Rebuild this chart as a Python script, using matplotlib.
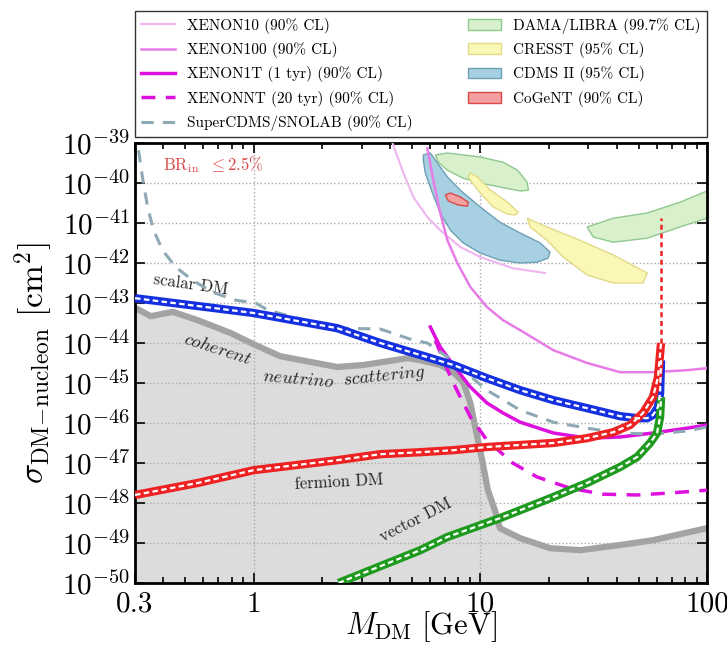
import numpy as np
import matplotlib
matplotlib.use("Agg")
import matplotlib.pyplot as plt

plt.rcParams['font.family'] = ['cmr10', 'DejaVu Serif']
plt.rcParams['mathtext.fontset'] = 'cm'
plt.rcParams['axes.formatter.use_mathtext'] = True

# --- data (GeV, log10 of cm^2) ---
nu_m = [0.3, 0.352, 0.44, 0.567, 0.792, 1.0, 1.31, 2.34, 3.05, 4.77, 5.44, 6.66, 7.6, 8.41, 9.04, 9.5, 10.2, 10.8,
        11.6, 12.2, 15.0, 20.3, 27.6, 41.4, 57.8, 100]
nu_s = [-43.12, -43.33, -43.22, -43.43, -43.75, -44.03, -44.33, -44.6, -44.55, -44.38, -44.43, -44.55, -44.73,
        -44.98, -45.5, -46.1, -46.93, -47.68, -48.18, -48.63, -48.88, -49.13, -49.18, -49.05, -48.93, -48.63]

scalar_m = [0.3, 1.0, 2.34, 3.62, 5.44, 7.6, 10.7, 15.0, 21.0, 29.6, 41.4, 49.2, 54.5, 57.8, 60.8, 62.1, 62.7]
scalar_s = [-42.88, -43.25, -43.63, -44.0, -44.3, -44.55, -44.88, -45.18, -45.43, -45.63, -45.83, -45.88, -45.88,
            -45.8, -45.6, -45.25, -44.43]

fermion_m = [0.3, 0.567, 1.0, 2.34, 3.62, 5.44, 7.6, 10.7, 15.0, 21.0, 29.6, 38.6, 45.8, 52.2, 57.8, 60.8, 62.7]
fermion_s = [-47.8, -47.5, -47.18, -46.93, -46.78, -46.73, -46.68, -46.6, -46.55, -46.5, -46.38, -46.23, -46.05,
             -45.75, -45.35, -44.85, -44.0]
fermion_top = [-44.0, -40.88]

vector_m = [2.37, 5.44, 7.16, 12.2, 15.0, 21.0, 29.6, 41.4, 49.2, 56.1, 60.2, 62.1, 62.7]
vector_s = [-50.0, -49.18, -48.85, -48.38, -48.18, -47.85, -47.5, -47.1, -46.85, -46.5, -46.25, -45.85, -45.35]

x10_m = [4.1, 4.58, 5.07, 5.84, 6.66, 8.16, 10.0, 13.9, 19.3]
x10_s = [-39.0, -39.75, -40.35, -40.85, -41.18, -41.6, -41.85, -42.13, -42.25]

x100_m = [5.84, 6.21, 6.66, 7.16, 7.92, 9.04, 10.7, 12.6, 15.0, 21.0, 29.6, 41.4, 57.8, 81.6, 100]
x100_s = [-39.13, -39.93, -40.75, -41.43, -42.0, -42.6, -43.1, -43.43, -43.68, -44.18, -44.5, -44.73, -44.73,
          -44.68, -44.63]

x1t_m = [6.02, 6.66, 7.6, 9.04, 10.7, 12.6, 15.0, 21.0, 29.6, 41.4, 57.8, 81.6, 100]
x1t_s = [-43.6, -44.1, -44.55, -45.1, -45.5, -45.75, -45.98, -46.25, -46.38, -46.35, -46.25, -46.13, -46.05]

xnt_m = [6.34, 6.87, 7.6, 9.04, 10.7, 13.9, 17.8, 24.9, 34.8, 49.2, 68.7, 100]
xnt_s = [-43.93, -44.43, -45.0, -45.85, -46.43, -47.0, -47.35, -47.63, -47.78, -47.8, -47.75, -47.68]

scdms_m = [0.311, 0.325, 0.341, 0.362, 0.397, 0.453, 0.538, 0.659, 0.833, 1.02, 1.16, 1.56, 2.34, 3.62, 5.07,
           5.84, 7.16, 8.41, 10.7, 15.0, 21.0, 29.6, 41.4, 57.8, 81.6, 100]
scdms_s = [-39.18, -39.93, -40.6, -41.18, -41.68, -42.1, -42.43, -42.73, -42.93, -43.0, -43.18, -43.38, -43.63,
           -43.65, -43.93, -44.0, -44.35, -44.68, -45.18, -45.68, -45.98, -46.13, -46.25, -46.28, -46.2, -46.1]

dama1_m = [6.34, 7.16, 10.0, 12.6, 14.6, 16.1, 16.3, 15.0, 12.2, 10.0, 8.41, 7.16, 6.53]
dama1_s = [-39.3, -39.25, -39.35, -39.48, -39.68, -39.98, -40.18, -40.2, -40.1, -40.0, -39.88, -39.68, -39.48]
dama2_m = [29.6, 38.6, 54.5, 76.0, 110, 110, 76.0, 54.5, 38.6, 31.5]
dama2_s = [-41.1, -40.88, -40.75, -40.48, -40.1, -40.8, -41.1, -41.38, -41.48, -41.35]

cresst1_m = [9.04, 9.7, 11.1, 13.2, 14.7, 14.3, 13.2, 11.4, 10.0, 9.22, 8.85]
cresst1_s = [-39.75, -39.85, -40.18, -40.48, -40.73, -40.8, -40.78, -40.6, -40.25, -40.0, -39.85]
cresst2_m = [16.1, 19.7, 27.5, 38.6, 54.5, 52.2, 38.6, 29.6, 23.2, 19.7, 16.6]
cresst2_s = [-40.88, -41.1, -41.43, -41.8, -42.25, -42.5, -42.5, -42.3, -41.85, -41.43, -41.1]

cdms_m = [5.61, 6.02, 6.47, 7.16, 8.16, 10.0, 12.2, 15.0, 18.4, 20.3, 19.9, 17.8, 15.0, 12.2, 10.0, 8.41, 7.38,
          6.66, 6.15, 5.72, 5.61]
cdms_s = [-39.3, -39.25, -39.5, -39.85, -40.18, -40.6, -40.98, -41.25, -41.5, -41.73, -41.88, -41.98, -42.0,
          -41.93, -41.75, -41.5, -41.18, -40.75, -40.25, -39.75, -39.43]

cogent_m = [7.01, 7.38, 8.16, 8.85, 8.76, 8.0, 7.23]
cogent_s = [-40.3, -40.25, -40.35, -40.48, -40.58, -40.55, -40.45]

xticks = [0.3, 1, 10, 100]
xticklabels = ['0.3', '1', '10', '100']
yexp = list(range(-50, -38))


def p(s):
    return [10.0 ** v for v in s]


fig = plt.figure(figsize=(7.27, 6.5), dpi=100)
ax = fig.add_axes([0.1857, 0.1031, 0.7868, 0.6769])
ax.set_xscale('log')
ax.set_yscale('log')
ax.set_xlim(0.3, 100)
ax.set_ylim(1e-50, 1e-39)

# neutrino floor
ax.fill_between(nu_m, p(nu_s), 1e-55, color='#dcdcdc', zorder=0, lw=0)
ax.plot(nu_m, p(nu_s), color='#a3a3a3', lw=4.5, zorder=1, solid_joinstyle='round')

# signal regions
for m, s in [(dama1_m, dama1_s), (dama2_m, dama2_s)]:
    h_dama = ax.fill(m, p(s), facecolor='#d8f0cc', edgecolor='#90c890', lw=1, zorder=2)[0]
for m, s in [(cresst1_m, cresst1_s), (cresst2_m, cresst2_s)]:
    h_cresst = ax.fill(m, p(s), facecolor='#fbf7b4', edgecolor='#e2d98a', lw=1, zorder=2)[0]
h_cdms = ax.fill(cdms_m, p(cdms_s), facecolor='#a7d1e2', edgecolor='#6e9fb5', lw=1, zorder=2)[0]
h_cogent = ax.fill(cogent_m, p(cogent_s), facecolor='#f4a0a0', edgecolor='#d84a4a', lw=1, zorder=3)[0]

# experimental limits
l1, = ax.plot(x10_m, p(x10_s), color='#f0b4f0', lw=1.5, zorder=4)
l2, = ax.plot(x100_m, p(x100_s), color='#e67ce6', lw=1.8, zorder=4)
l3, = ax.plot(x1t_m, p(x1t_s), color='#dd10dd', lw=2.5, zorder=4)
l4, = ax.plot(xnt_m, p(xnt_s), color='#dd10dd', lw=2.5, ls=(0, (4, 3)), zorder=4)
l5, = ax.plot(scdms_m, p(scdms_s), color='#8fa9b4', lw=2.2, ls=(0, (4, 3)), zorder=4)


def band(m, s, c):
    ax.plot(m, p(s), color=c, lw=6, zorder=6, solid_capstyle='butt', solid_joinstyle='round')
    ax.plot(m, p(s), color='white', lw=1.6, ls=(0, (2.5, 1.5)), zorder=7)


band(scalar_m, scalar_s, '#1530e0')
band(vector_m, vector_s, '#1e9a1e')
band(fermion_m, fermion_s, '#ee2222')
ax.plot([fermion_m[-1], fermion_m[-1]], p(fermion_top), color='#ee2222', lw=1.8, ls=(0, (2, 1.5)), zorder=6)

# text
ax.text(0.40, 10 ** -39.55, r'$\mathrm{BR}_{\mathrm{in}}\ \ \leq 2.5\%$', color='#d84848', fontsize=12, va='center')
ax.text(0.528, 10 ** -42.55, 'scalar DM', fontsize=12, rotation=-8, ha='center', va='center', color='#222222')
ax.text(0.70, 10 ** -44.15, r'$\mathit{coherent}$', fontsize=13, rotation=-18, ha='center', va='center', color='#222222')
ax.text(1.58, 10 ** -44.9, r'$\mathit{neutrino}$', fontsize=13, rotation=-5, ha='center', va='center', color='#222222')
ax.text(3.78, 10 ** -44.85, r'$\mathit{scattering}$', fontsize=13, rotation=6, ha='center', va='center', color='#222222')
ax.text(2.39, 10 ** -47.48, 'fermion DM', fontsize=12, rotation=3, ha='center', va='center', color='#222222')
ax.text(5.17, 10 ** -48.43, 'vector DM', fontsize=12, rotation=27, ha='center', va='center', color='#222222')

# axes cosmetics
ax.set_xticks(xticks)
ax.set_xticklabels(xticklabels)
ax.set_yticks([10.0 ** e for e in yexp])
ax.set_yticklabels([r'$10^{%d}$' % e for e in yexp])
ax.yaxis.set_minor_locator(matplotlib.ticker.NullLocator())
ax.tick_params(which='both', direction='in', top=True, right=True, labelsize=21, width=1.2)
ax.tick_params(which='major', length=7)
ax.tick_params(which='minor', length=4)
ax.tick_params(axis='x', pad=6)
ax.grid(True, which='major', ls=':', color='#aaaaaa', lw=1)
for sp in ax.spines.values():
    sp.set_linewidth(2)

ax.set_xlabel(r'$M_{\rm DM}\ [{\rm GeV}]$', fontsize=22, labelpad=-6)
ax.set_ylabel(r'$\sigma_{\rm DM\!-\!nucleon}\ [{\rm cm}^2]$', fontsize=24, labelpad=4)

handles = [l1, l2, l3, l4, l5, h_dama, h_cresst, h_cdms, h_cogent]
labels = ['XENON10 (90% CL)', 'XENON100 (90% CL)', 'XENON1T (1 tyr) (90% CL)', 'XENONNT (20 tyr) (90% CL)',
          'SuperCDMS/SNOLAB (90% CL)', 'DAMA/LIBRA (99.7% CL)', 'CRESST (95% CL)', 'CDMS II (95% CL)', 'CoGeNT (90% CL)']
leg = ax.legend(handles, labels, loc='lower left', bbox_to_anchor=(0, 1.013, 1, 0.2), mode='expand', ncol=2,
                fontsize=11, fancybox=False, edgecolor='#333333', framealpha=1, labelspacing=0.55,
                handlelength=2.2, borderaxespad=0)
leg.get_frame().set_linewidth(1)

fig.savefig('out.png', dpi=100)
